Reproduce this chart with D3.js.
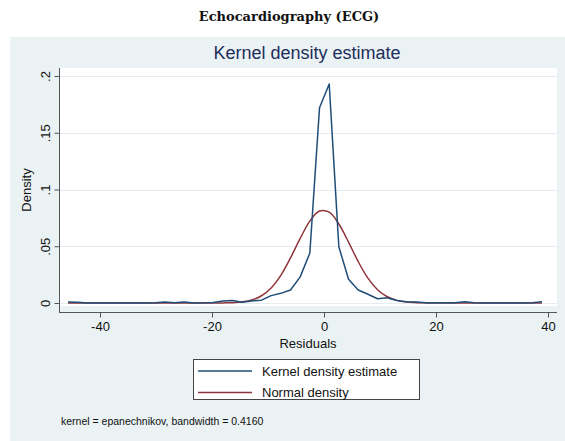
<!DOCTYPE html>
<html>
<head>
<meta charset="utf-8">
<script src="https://cdn.jsdelivr.net/npm/d3@7"></script>
<style>
  html, body { margin: 0; padding: 0; background: #ffffff; }
  svg { display: block; }
</style>
</head>
<body>
<svg id="chart" width="565" height="441"></svg>
<script>
// ---- data ----
const gridX = [-45.70,-43.97,-42.25,-40.52,-38.79,-37.07,-35.34,-33.61,-31.88,-30.16,
  -28.43,-26.70,-24.98,-23.25,-21.52,-19.80,-18.07,-16.34,-14.62,-12.89,
  -11.16,-9.44,-7.71,-5.98,-4.25,-2.53,-0.80,0.93,2.65,4.38,
  6.11,7.84,9.56,11.29,13.02,14.74,16.47,18.20,19.92,21.65,
  23.38,25.10,26.83,28.56,30.29,32.01,33.74,35.47,37.19,38.92];
const kernelDensity = [0.0008,0.0006,0.0001,0,0,0,0,0,0,0.0002,
  0.0009,0.0002,0.0008,0.0001,0.0002,0.0005,0.0018,0.0022,0.0006,0.0018,
  0.0025,0.0065,0.0085,0.0115,0.0230,0.0440,0.1720,0.1930,0.0496,0.0210,
  0.0115,0.0077,0.0037,0.0046,0.0022,0.0012,0.0009,0.0002,0.0002,0.0002,
  0.0002,0.0010,0.0002,0.0001,0.0001,0.0001,0.0001,0.0001,0.0002,0.0010];
const normalDensity = [0,0,0,0,0,0,0,0,0,0,
  0,0,0,0,0,0,0.0001,0.0003,0.0010,0.0027,
  0.0064,0.0133,0.0244,0.0397,0.0569,0.0721,0.0810,0.0800,0.0696,0.0537,
  0.0365,0.0219,0.0117,0.0055,0.0023,0.0008,0.0003,0.0001,0,0,
  0,0,0,0,0,0,0,0,0,0];
const xTicks = [-40,-20,0,20,40];
const yTicks = [0,0.05,0.1,0.15,0.2];
const yTickLabels = ["0",".05",".1",".15",".2"];
const seriesNames = ["Kernel density estimate","Normal density"];
const seriesColors = ["#1f4d78","#90353b"];

// ---- drawing ----
const svg = d3.select("#chart");
const sans = "'Liberation Sans', Arial, Helvetica, sans-serif";

// outer graph region
svg.append("rect").attr("x",10).attr("y",37).attr("width",555).attr("height",404)
  .attr("fill","#eaf2f3");

// page title
svg.append("text").attr("x",289).attr("y",21).attr("text-anchor","middle")
  .attr("font-family","'DejaVu Serif', 'Liberation Serif', serif").attr("font-weight","bold")
  .attr("font-size",13).attr("fill","#111").text("Echocardiography (ECG)");

// chart title
svg.append("text").attr("x",307).attr("y",59).attr("text-anchor","middle")
  .attr("font-family",sans).attr("font-size",18).attr("fill","#1e2d5c")
  .text("Kernel density estimate");

const x = d3.scaleLinear().domain([-40,40]).range([100,548]);
const y = d3.scaleLinear().domain([0,0.2]).range([303,76]);

const plotL = 60, plotR = 557, plotT = 68, plotB = 306;

// plot region
svg.append("rect").attr("x",plotL).attr("y",plotT).attr("width",plotR-plotL).attr("height",plotB-plotT)
  .attr("fill","#ffffff");

// gridlines
svg.append("g").selectAll("line").data(yTicks).join("line")
  .attr("x1",plotL).attr("x2",plotR)
  .attr("y1",d=>Math.round(y(d))+0.5).attr("y2",d=>Math.round(y(d))+0.5)
  .attr("stroke","#e3ecef").attr("stroke-width",1);

// y axis
const yAxis = d3.axisLeft(y).tickValues(yTicks).tickSize(5)
  .tickFormat((d,i)=>yTickLabels[i]);
const gy = svg.append("g").attr("transform","translate(59.5,0)").call(yAxis);
gy.select(".domain").remove();
gy.append("line").attr("x1",0).attr("x2",0).attr("y1",plotT).attr("y2",313)
  .attr("stroke","#555");
gy.selectAll(".tick line").attr("stroke","#555");
gy.selectAll(".tick text")
  .attr("font-family",sans).attr("font-size",13).attr("fill","#111")
  .attr("x",null).attr("dy",null)
  .attr("text-anchor","middle")
  .attr("transform","translate(-14,0) rotate(-90)")
  .attr("y",0).attr("dy","0.35em");

// y title
svg.append("text").attr("transform","translate(31,190) rotate(-90)")
  .attr("text-anchor","middle").attr("font-family",sans).attr("font-size",13)
  .attr("fill","#111").text("Density");

// x axis
const xAxis = d3.axisBottom(x).tickValues(xTicks).tickSize(5).tickFormat(d3.format("d"));
const gx = svg.append("g").attr("transform","translate(0,312.5)").call(xAxis);
gx.select(".domain").remove();
gx.append("line").attr("x1",59).attr("x2",plotR).attr("y1",0).attr("y2",0).attr("stroke","#555");
gx.selectAll(".tick line").attr("stroke","#555");
gx.selectAll(".tick text").attr("font-family",sans).attr("font-size",13)
  .attr("fill","#111").attr("y",9).attr("dy","0.71em").text(d=>d<0 ? "-"+Math.abs(d) : d);

svg.append("text").attr("x",308).attr("y",348).attr("text-anchor","middle")
  .attr("font-family",sans).attr("font-size",13).attr("fill","#111").text("Residuals");

// lines
const kernelPts = gridX.map((v,i)=>[v,kernelDensity[i]]);
const normalPts = gridX.map((v,i)=>[v,normalDensity[i]]);
const lineLin = d3.line().x(d=>x(d[0])).y(d=>y(d[1]));
const lineSmooth = d3.line().x(d=>x(d[0])).y(d=>y(d[1])).curve(d3.curveCatmullRom.alpha(0.5));

svg.append("path").datum(normalPts).attr("d",lineSmooth)
  .attr("fill","none").attr("stroke",seriesColors[1]).attr("stroke-width",1.5);
svg.append("path").datum(kernelPts).attr("d",lineLin)
  .attr("fill","none").attr("stroke",seriesColors[0]).attr("stroke-width",1.5)
  .attr("stroke-linejoin","round");

// legend
const lg = svg.append("g");
lg.append("rect").attr("x",193.5).attr("y",359.5).attr("width",226).attr("height",40)
  .attr("fill","#ffffff").attr("stroke","#444").attr("stroke-width",1);
seriesNames.forEach((name,i)=>{
  const yy = 371 + i*21.5;
  lg.append("line").attr("x1",198).attr("x2",252).attr("y1",yy).attr("y2",yy)
    .attr("stroke",seriesColors[i]).attr("stroke-width",1.5);
  lg.append("text").attr("x",262).attr("y",yy).attr("dy","0.35em")
    .attr("font-family",sans).attr("font-size",13).attr("fill","#111").text(name);
});

// note
svg.append("text").attr("x",61).attr("y",421).attr("dy","0.35em")
  .attr("font-family",sans).attr("font-size",10.5).attr("fill","#111")
  .text("kernel = epanechnikov, bandwidth = 0.4160");
</script>
</body>
</html>
